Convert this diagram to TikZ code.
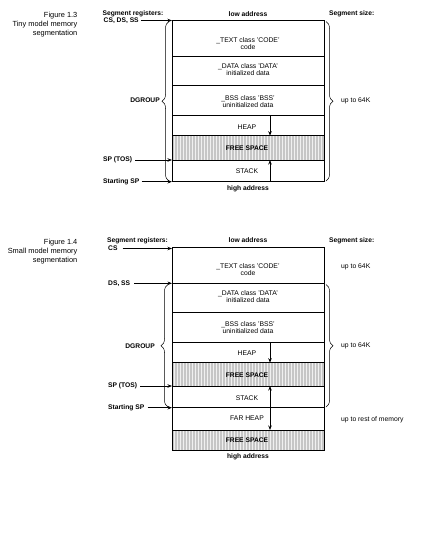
\documentclass[tikz,border=0pt]{standalone}
\usepackage{fontspec}
\setmainfont{Liberation Sans}
\usetikzlibrary{decorations.pathreplacing,arrows.meta,patterns}
\tikzset{
  txt/.style={font=\fontsize{6.8}{7}\selectfont, align=center, inner sep=0pt},
  bold/.style={font=\bfseries\fontsize{6.7}{7}\selectfont, inner sep=0pt},
  capt/.style={font=\fontsize{7.4}{9.2}\selectfont, align=right, anchor=north east, inner sep=0pt},
  sec/.style={draw, line width=0.6pt, minimum width=152pt, anchor=north west, inner sep=0pt, outer sep=0pt},
  free/.style={sec, preaction={fill=gray!45}, pattern=vertical lines, pattern color=gray!12},
  ptr/.style={-{Stealth[length=4.5pt,width=3.5pt]}, line width=1pt},
  dptr/.style={{Stealth[length=4.5pt,width=3.5pt]}-{Stealth[length=4.5pt,width=3.5pt]}, line width=1pt},
  brc/.style={decorate, decoration={brace, amplitude=7pt}, line width=0.5pt},
}
\begin{document}
\begin{tikzpicture}[x=1pt,y=-1pt]
\useasboundingbox (0,0) rectangle (429,547);
\fill[white] (0,0) rectangle (429,547);

% ================= Figure 1.3 =================
\node[capt] (cap1) at (77.5,11.8) {Figure 1.3\\Tiny model memory\\segmentation};

\node[sec, minimum height=35.3pt] (t1) at (172,20.7) {};
\node[sec, minimum height=29.7pt] (d1) at (172,56) {};
\node[sec, minimum height=30pt]   (b1) at (172,85.7) {};
\node[sec, minimum height=20pt]   (h1) at (172,115.7) {};
\node[free, minimum height=24.3pt] (f1) at (172,135.7) {};
\node[sec, minimum height=21.7pt] (s1) at (172,160) {};

\node[txt] (tt1) at (248,43.5) {\_TEXT class 'CODE'\\code};
\node[txt] (dt1) at (248,70) {\_DATA class 'DATA'\\initialized data};
\node[txt] (bt1) at (248,101.5) {\_BSS class 'BSS'\\uninitialized data};
\node[txt] (ht1) at (247,126.7) {HEAP};
\node[bold] (ft1) at (247,148) {FREE SPACE};
\node[txt] (st1) at (247,171) {STACK};

\node[bold] (lo1) at (248,14) {low address};
\node[bold] (hi1) at (248,188.5) {high address};
\node[bold, anchor=west] (sr1) at (102.5,13.8) {Segment registers:};
\node[bold, anchor=west] (cs1) at (103.5,20.5) {CS, DS, SS};
\node[bold, anchor=west] (tos1) at (103,160) {SP (TOS)};
\node[bold, anchor=west] (ssp1) at (103,181.7) {Starting SP};
\node[bold, anchor=east] (dg1) at (160,100.5) {DGROUP};
\node[bold, anchor=west] (ss1) at (329,14) {Segment size:};
\node[txt, anchor=west] (up1) at (341,101) {up to 64K};

\draw[ptr] (cs1.east) ++(2,0) -- (cs1.east -| t1.west);
\draw[ptr] (tos1.east) ++(3,0) -- (tos1.east -| s1.west);
\draw[ptr] (ssp1.east) ++(2,0) -- (ssp1.east -| s1.west);

\coordinate (ha1) at (270,115.7);
\coordinate (sa1) at (270,181.7);
\draw[ptr] (ha1) -- (ha1 |- f1.north);
\draw[ptr] (sa1) -- (sa1 |- f1.south);

\draw[brc] (169,181) -- (169,21.5);
\draw[brc] (326,21.5) -- (326,181);

% ================= Figure 1.4 =================
\node[capt] (cap2) at (77.5,238.5) {Figure 1.4\\Small model memory\\segmentation};

\node[sec, minimum height=36pt]   (t2) at (172,247.3) {};
\node[sec, minimum height=29.4pt] (d2) at (172,283.3) {};
\node[sec, minimum height=29.6pt] (b2) at (172,312.7) {};
\node[sec, minimum height=20.4pt] (h2) at (172,342.3) {};
\node[free, minimum height=23.3pt] (f2) at (172,362.7) {};
\node[sec, minimum height=21.7pt] (s2) at (172,386) {};
\node[sec, minimum height=22.3pt] (fh2) at (172,407.7) {};
\node[free, minimum height=20.7pt] (g2) at (172,430) {};

\node[txt] (tt2) at (248,269.5) {\_TEXT class 'CODE'\\code};
\node[txt] (dt2) at (248,296.5) {\_DATA class 'DATA'\\initialized data};
\node[txt] (bt2) at (248,327.5) {\_BSS class 'BSS'\\uninitialized data};
\node[txt] (ht2) at (247,352.7) {HEAP};
\node[bold] (ft2) at (247,375) {FREE SPACE};
\node[txt] (st2) at (247,398) {STACK};
\node[txt] (fht2) at (247,418.5) {FAR HEAP};
\node[bold] (gt2) at (247,440) {FREE SPACE};

\node[bold] (lo2) at (248,240.5) {low address};
\node[bold] (hi2) at (248,456.5) {high address};
\node[bold, anchor=west] (sr2) at (107,240.3) {Segment registers:};
\node[bold, anchor=west] (cs2) at (108,248.5) {CS};
\node[bold, anchor=west] (ds2) at (108,283.3) {DS, SS};
\node[bold, anchor=west] (tos2) at (108,386) {SP (TOS)};
\node[bold, anchor=west] (ssp2) at (108,407.7) {Starting SP};
\node[bold, anchor=east] (dg2) at (155,346.5) {DGROUP};
\node[bold, anchor=west] (ss2) at (329,240.5) {Segment size:};
\node[txt, anchor=west] (up2a) at (341,266.5) {up to 64K};
\node[txt, anchor=west] (up2b) at (341,346) {up to 64K};
\node[txt, anchor=west] (up2c) at (341,420) {up to rest of memory};

\draw[ptr] (cs2.east) ++(5,0) -- (cs2.east -| t2.west);
\draw[ptr] (ds2.east) ++(4,0) -- (ds2.east -| d2.west);
\draw[ptr] (tos2.east) ++(3,0) -- (tos2.east -| s2.west);
\draw[ptr] (ssp2.east) ++(3,0) -- (ssp2.east -| fh2.west);

\coordinate (ha2) at (270,342.3);
\coordinate (sa2) at (270,386);
\draw[ptr] (ha2) -- (ha2 |- f2.north);
\draw[dptr] (sa2) -- (sa2 |- g2.north);

\draw[brc] (168,407) -- (168,284.5);
\draw[brc] (326,284.5) -- (326,407);

\end{tikzpicture}
\end{document}
